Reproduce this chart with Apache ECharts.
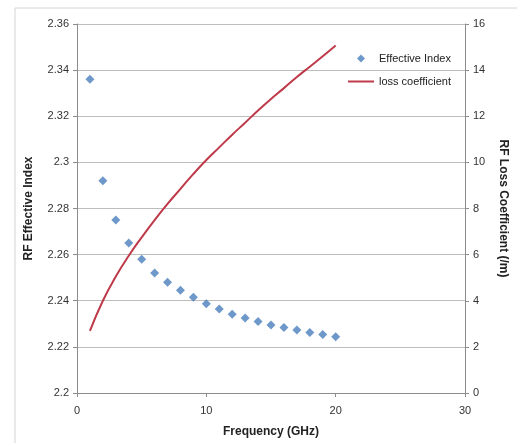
<!DOCTYPE html>
<html>
<head>
<meta charset="utf-8">
<script src="https://cdn.jsdelivr.net/npm/echarts@6/dist/echarts.min.js"></script>
<style>
    html, body { margin: 0; padding: 0; background: #fff; }
    #myChart { width: 517px; height: 443px; }
</style>
</head>
<body>
<div id="myChart"></div>
<script>
// frequency (GHz)
var freq = [1, 2, 3, 4, 5, 6, 7, 8, 9, 10, 11, 12, 13, 14, 15, 16, 17, 18, 19, 20];
// RF effective index (left axis)
var effIndex = [2.336, 2.292, 2.275, 2.265, 2.258, 2.252, 2.248, 2.2445, 2.2415, 2.2387,
    2.2364, 2.2342, 2.2325, 2.231, 2.2295, 2.2284, 2.2273, 2.2262, 2.2254, 2.2244];
// loss coefficient (/m) (right axis)
var lossCoef = [2.69, 4.0, 5.05, 5.95, 6.75, 7.5, 8.2, 8.85, 9.5, 10.1,
    10.65, 11.2, 11.72, 12.25, 12.75, 13.22, 13.7, 14.15, 14.6, 15.07];

var font = 'Liberation Sans Narrow, Liberation Sans, sans-serif';

var myChart = echarts.init(document.getElementById('myChart'));
var option = {
    animation: false,
    textStyle: { fontFamily: font },
    graphic: [{
        type: 'rect',
        shape: { x: 15, y: 8, width: 520, height: 460 },
        style: { fill: 'none', stroke: '#d4d4d4', lineWidth: 1 },
        silent: true
    }],
    legend: {
        orient: 'vertical',
        left: 343,
        top: 48,
        itemWidth: 26,
        itemHeight: 8,
        itemGap: 12,
        symbolKeepAspect: true,
        textStyle: { fontSize: 11, color: '#222', fontFamily: font },
        data: [
            { name: 'Effective Index', icon: 'path://M5,0L10,5L5,10L0,5Z' },
            { name: 'loss coefficient', icon: 'path://M0,0H26V2H0Z' }
        ]
    },
    grid: { left: 77, right: 47, top: 24, bottom: 50 },
    xAxis: {
        type: 'value',
        min: 0, max: 30, interval: 10,
        name: 'Frequency (GHz)',
        nameLocation: 'middle',
        nameGap: 33,
        nameTextStyle: { fontSize: 12, fontWeight: 'bold', color: '#222', fontFamily: font },
        axisLine: { lineStyle: { color: '#8c8c8c' } },
        axisTick: { show: true, length: 4, lineStyle: { color: '#8c8c8c' } },
        axisLabel: { fontSize: 11, color: '#333', margin: 12 },
        splitLine: { show: false }
    },
    yAxis: [{
        type: 'value',
        min: 2.2, max: 2.36, interval: 0.02,
        name: 'RF Effective Index',
        nameLocation: 'middle',
        nameGap: 42,
        nameTextStyle: { fontSize: 12, fontWeight: 'bold', color: '#222', fontFamily: font },
        axisLine: { show: true, lineStyle: { color: '#8c8c8c' } },
        axisTick: { show: true, length: 4, lineStyle: { color: '#8c8c8c' } },
        axisLabel: { fontSize: 11, color: '#333', margin: 8 },
        splitLine: { show: true, lineStyle: { color: '#bdbdbd' } }
    }, {
        type: 'value',
        min: 0, max: 16, interval: 2,
        position: 'right',
        name: 'RF Loss Coefficient (/m)',
        nameLocation: 'middle',
        nameGap: 32,
        nameRotate: -90,
        nameTextStyle: { fontSize: 12, fontWeight: 'bold', color: '#222', fontFamily: font },
        axisLine: { show: true, lineStyle: { color: '#8c8c8c' } },
        axisTick: { show: true, length: 4, lineStyle: { color: '#8c8c8c' } },
        axisLabel: { fontSize: 11, color: '#333', margin: 8 },
        splitLine: { show: false }
    }],
    series: [{
        name: 'Effective Index',
        type: 'scatter',
        yAxisIndex: 0,
        symbol: 'diamond',
        symbolSize: 9,
        itemStyle: { color: '#4a7ebb' },
        data: freq.map(function (f, i) { return [f, effIndex[i]]; })
    }, {
        name: 'loss coefficient',
        type: 'line',
        yAxisIndex: 1,
        smooth: true,
        symbol: 'none',
        lineStyle: { color: '#be3a4a', width: 2 },
        itemStyle: { color: '#be3a4a' },
        data: freq.map(function (f, i) { return [f, lossCoef[i]]; })
    }]
};
myChart.setOption(option);
</script>
</body>
</html>
